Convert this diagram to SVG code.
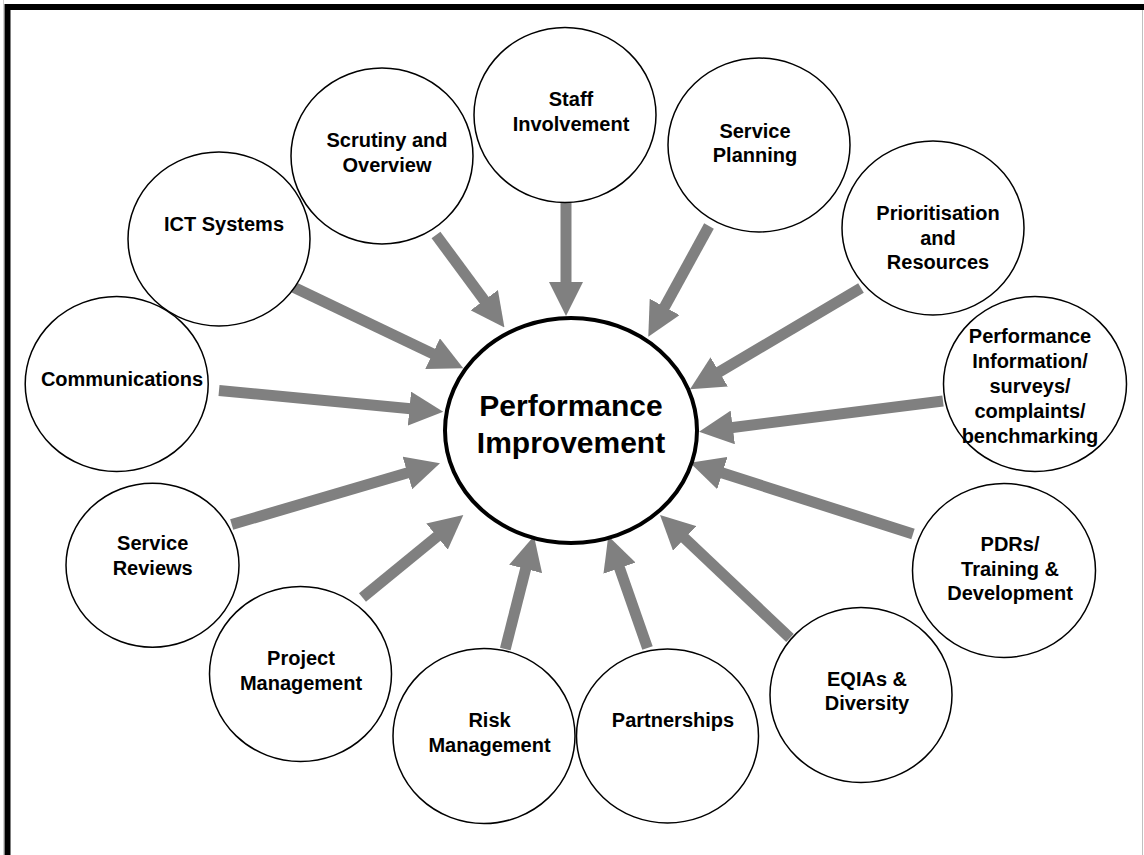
<svg xmlns="http://www.w3.org/2000/svg" width="1144" height="855" viewBox="0 0 1144 855">
<style>
.node{fill:#fff;stroke:#000;stroke-width:1.5}
.hub{fill:#fff;stroke:#000;stroke-width:4}
.t{font-family:"Liberation Sans",Arial,sans-serif;font-weight:bold;font-size:20px;fill:#000;text-anchor:middle}
.th{font-family:"Liberation Sans",Arial,sans-serif;font-weight:bold;font-size:30px;fill:#000;text-anchor:middle}
.c{stroke:#808080;stroke-width:11;fill:none;marker-end:url(#ah)}
</style>
<defs>
<marker id="ah" markerUnits="userSpaceOnUse" markerWidth="34" markerHeight="34" viewBox="0 0 34 34" refX="4" refY="17" orient="auto">
<path d="M0,0 L34,17 L0,34 Z" fill="#808080"/>
</marker>
</defs>
<rect width="1144" height="855" fill="#fff"/>
<g id="frame">
<line x1="3.5" y1="0" x2="3.5" y2="855" stroke="#d0d0d0" stroke-width="1"/>
<line x1="1142.5" y1="10" x2="1142.5" y2="855" stroke="#c0c0c0" stroke-width="1"/>
<path d="M7.5,855 V7 H1144" fill="none" stroke="#000" stroke-width="6"/>
</g>
<g id="connectors">
<line class="c" x1="566" y1="202" x2="566" y2="286"/>
<line class="c" x1="436" y1="235" x2="486.6" y2="303.4"/>
<line class="c" x1="709" y1="226" x2="662.7" y2="310.4"/>
<line class="c" x1="861" y1="288" x2="715.8" y2="374"/>
<line class="c" x1="943" y1="401" x2="728.8" y2="428"/>
<line class="c" x1="913" y1="534" x2="718.6" y2="471.8"/>
<line class="c" x1="790" y1="638" x2="681.8" y2="535.6"/>
<line class="c" x1="647.5" y1="648" x2="618.2" y2="564.3"/>
<line class="c" x1="505.3" y1="649" x2="526.6" y2="565.1"/>
<line class="c" x1="362.5" y1="597.5" x2="440.1" y2="534"/>
<line class="c" x1="231.7" y1="524.5" x2="411.2" y2="471.8"/>
<line class="c" x1="219" y1="390.5" x2="413.4" y2="408.9"/>
<line class="c" x1="291" y1="286" x2="436.2" y2="355.4"/>
</g>
<g id="hub">
<ellipse class="hub" cx="571" cy="430.5" rx="126" ry="112.5"/>
<text class="th" x="571" y="416">Performance</text>
<text class="th" x="571" y="453">Improvement</text>
</g>
<g id="ict">
<ellipse class="node" cx="219" cy="239" rx="91" ry="87"/>
<text class="t" x="224" y="231">ICT Systems</text>
</g>
<g id="scrutiny">
<ellipse class="node" cx="382" cy="156" rx="91" ry="88"/>
<text class="t" x="387" y="147">Scrutiny and</text>
<text class="t" x="387" y="172">Overview</text>
</g>
<g id="staff">
<ellipse class="node" cx="565" cy="115" rx="91" ry="87.5"/>
<text class="t" x="571" y="106">Staff</text>
<text class="t" x="571" y="131">Involvement</text>
</g>
<g id="planning">
<ellipse class="node" cx="759" cy="145" rx="91" ry="87"/>
<text class="t" x="755" y="138">Service</text>
<text class="t" x="755" y="162">Planning</text>
</g>
<g id="prioritisation">
<ellipse class="node" cx="933" cy="228" rx="91" ry="87"/>
<text class="t" x="938" y="220">Prioritisation</text>
<text class="t" x="938" y="245">and</text>
<text class="t" x="938" y="269">Resources</text>
</g>
<g id="perfinfo">
<ellipse class="node" cx="1035" cy="384" rx="91.5" ry="87.5"/>
<text class="t" x="1030" y="343">Performance</text>
<text class="t" x="1030" y="368">Information/</text>
<text class="t" x="1030" y="393">surveys/</text>
<text class="t" x="1030" y="418">complaints/</text>
<text class="t" x="1030" y="443">benchmarking</text>
</g>
<g id="pdrs">
<ellipse class="node" cx="1004" cy="570.5" rx="91.5" ry="87"/>
<text class="t" x="1010" y="551">PDRs/</text>
<text class="t" x="1010" y="576">Training &amp;</text>
<text class="t" x="1010" y="600">Development</text>
</g>
<g id="eqias">
<ellipse class="node" cx="861" cy="695" rx="91" ry="87.5"/>
<text class="t" x="867" y="686">EQIAs &amp;</text>
<text class="t" x="867" y="710">Diversity</text>
</g>
<g id="partnerships">
<ellipse class="node" cx="667.5" cy="736" rx="91" ry="87"/>
<text class="t" x="673" y="727">Partnerships</text>
</g>
<g id="risk">
<ellipse class="node" cx="484" cy="736" rx="91" ry="87.5"/>
<text class="t" x="489.5" y="727">Risk</text>
<text class="t" x="489.5" y="752">Management</text>
</g>
<g id="project">
<ellipse class="node" cx="300.5" cy="674" rx="91" ry="87.5"/>
<text class="t" x="301" y="665">Project</text>
<text class="t" x="301" y="690">Management</text>
</g>
<g id="reviews">
<ellipse class="node" cx="152.5" cy="565.3" rx="86.5" ry="82"/>
<text class="t" x="152.7" y="550">Service</text>
<text class="t" x="152.7" y="575">Reviews</text>
</g>
<g id="communications">
<ellipse class="node" cx="116.7" cy="384" rx="91.5" ry="87.5"/>
<text class="t" x="122" y="386">Communications</text>
</g>
</svg>
